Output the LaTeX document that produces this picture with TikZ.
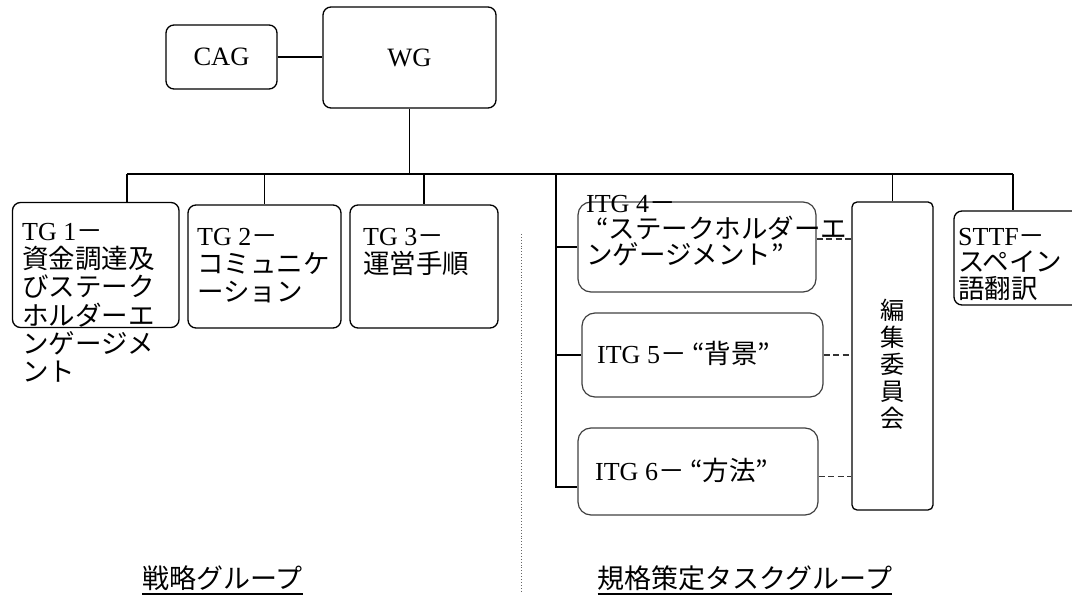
\documentclass[tikz,border=0pt]{standalone}
\usepackage{fontspec}
\setmainfont{Liberation Serif}
\newfontfamily\jp[Scale=1.0]{Noto Sans CJK JP}
\newcommand\J[1]{{\jp\fontsize{26.5}{28}\selectfont #1}}
\begin{document}
\begin{tikzpicture}[x=1pt,y=-1pt,
  box/.style={draw, rounded corners=8pt, line width=1.3pt, inner sep=0pt},
  itgbox/.style={draw=black!75, rounded corners=13pt, line width=1.2pt, inner sep=0pt},
  txt/.style={inner sep=0pt, anchor=north west, align=left},
  conn/.style={line width=1.3pt},
  dconn/.style={line width=1.5pt, draw=black!80, dash pattern=on 6pt off 3.5pt},
  big/.style={font=\fontsize{26.5}{30}\selectfont},
  norm/.style={font=\fontsize{26}{28.2}\selectfont}]
\clip (0,0) rectangle (1072,601);
\useasboundingbox (0,0) rectangle (1072,601);
% top boxes
\node[box, big, minimum width=173pt, minimum height=101pt] (wg) at (409.5,57.5) {WG};
\node[box, big, minimum width=111pt, minimum height=64pt] (cag) at (221.5,57) {CAG};
% strategy group boxes
\node[box, minimum width=166.5pt, minimum height=125pt] (tg1) at (95.75,265) {};
\node[box, minimum width=153pt, minimum height=123pt] (tg2) at (264.5,266.5) {};
\node[box, minimum width=148pt, minimum height=123pt] (tg3) at (424,266.5) {};
% ITG boxes
\node[itgbox, minimum width=238pt, minimum height=90pt] (itg4) at (697,247) {};
\node[itgbox, minimum width=241pt, minimum height=84pt] (itg5) at (702.5,355) {};
\node[itgbox, minimum width=240pt, minimum height=87pt] (itg6) at (698,471.5) {};
% editorial committee
\node[box, rounded corners=5pt, minimum width=81pt, minimum height=308pt] (edit) at (892.5,356) {};
\node[box, minimum width=136pt, minimum height=94pt] (sttf) at (1022,258) {};
% texts
\node[txt, norm] (tg1t) at (22,223) {TG 1\J{－}\\\J{資金調達及}\\\J{びステーク}\\\J{ホルダーエ}\\\J{ンゲージメ}\\\J{ント}};
\node[txt, norm] (tg2t) at (197,228) {TG 2\J{－}\\\J{コミュニケ}\\\J{ーション}};
\node[txt, norm] (tg3t) at (363,228) {TG 3\J{－}\\\J{運営手順}};
\node[txt, font=\fontsize{26}{26}\selectfont] (itg4t) at (586,195) {ITG 4\J{－}\\\hspace*{10pt}\J{“ステークホルダーエ}\\\J{ンゲージメント”}};
\node[inner sep=0pt, anchor=west, norm] (itg5t) at (597,353) {ITG 5\J{－ “背景”}};
\node[inner sep=0pt, anchor=west, norm] (itg6t) at (595,470) {ITG 6\J{－ “方法”}};
\node[txt, font=\fontsize{26}{26.5}\selectfont] (sttft) at (958,228) {STTF\J{－}\\\J{スペイン}\\\J{語翻訳}};
\node[inner sep=0pt, align=center, font=\jp\fontsize{24.3}{27}\selectfont] (editt) at (892.5,364) {編\\集\\委\\員\\会};
% bottom labels
\node[inner sep=0pt, font=\jp\fontsize{27}{28}\selectfont] (lab1) at (222.5,578) {戦略グループ};
\node[inner sep=0pt, font=\jp\fontsize{27}{28}\selectfont] (lab2) at (745,578) {規格策定タスクグループ};
\draw[line width=2pt] ([yshift=-3pt]lab1.south west) -- ([yshift=-3pt]lab1.south east);
\draw[line width=2pt] ([yshift=-3pt]lab2.south west) -- ([yshift=-3pt]lab2.south east);
% divider
\coordinate (divT) at (521,234);
\coordinate (divB) at (521,592);
\draw[black!60, line width=0.9pt, dotted] (divT) -- (divB);
% connectors
\coordinate (busL) at (127,174);
\coordinate (busR) at (1013,174);
\coordinate (itgTop) at (556,174);
\coordinate (itgBot) at (556,487);
\draw[conn] (cag.east) -- (cag.east -| wg.west);
\draw[conn] (wg.south) -- (wg.south |- busL);
\draw[conn] (busL) -- (busR);
\draw[conn] (busL) -- (busL |- tg1.north);
\draw[conn] (tg2.north |- busL) -- (tg2.north);
\draw[conn] (tg3.north |- busL) -- (tg3.north);
\draw[conn] (edit.north |- busL) -- (edit.north);
\draw[conn] (busR) -- (busR |- sttf.north);
\draw[conn] (itgTop) -- (itgBot) -- (itgBot -| itg6.west);
\draw[conn] (itgTop |- itg4.west) -- (itg4.west);
\draw[conn] (itgTop |- itg5.west) -- (itg5.west);
\coordinate (d4) at ([yshift=8pt]itg4.east);
\coordinate (d6) at ([yshift=-5pt]itg6.east);
\draw[dconn] (d4) -- (d4 -| edit.west);
\draw[dconn] (itg5.east) -- (itg5.east -| edit.west);
\draw[dconn] (d6) -- (d6 -| edit.west);
\end{tikzpicture}
\end{document}
